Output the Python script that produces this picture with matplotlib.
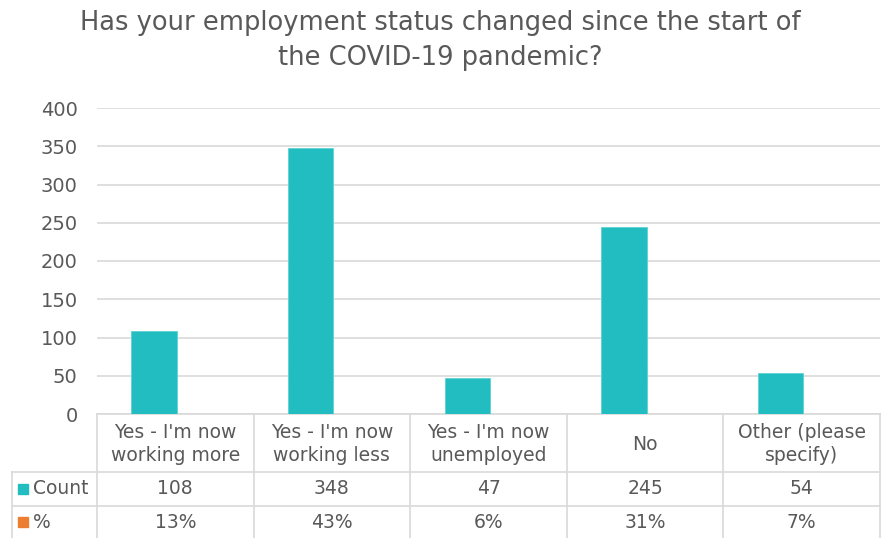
import numpy as np
import matplotlib.pyplot as plt
from matplotlib.transforms import blended_transform_factory

categories = ["Yes - I'm now\nworking more", "Yes - I'm now\nworking less",
              "Yes - I'm now\nunemployed", "No", "Other (please\nspecify)"]
counts = [108, 348, 47, 245, 54]
percents = [0.13, 0.43, 0.06, 0.31, 0.07]
yticks = [0, 50, 100, 150, 200, 250, 300, 350, 400]

teal = "#21BDC1"
orange = "#ED7D31"
grey = "#595959"
line = "#D9D9D9"

W, H = 881, 538
fig = plt.figure(figsize=(W / 100, H / 100), dpi=100)

# plot area in pixels
x0, x1 = 97, 880
y_zero, y_top = 414, 108
ax = fig.add_axes([x0 / W, (H - y_zero) / H, (x1 - x0) / W, (y_zero - y_top) / H])

x = np.arange(len(categories))
bw = 0.29
ax.bar(x - bw / 2 + 0.01, counts, bw, color=teal, edgecolor="#5fd3d6", linewidth=0.6, zorder=3)
ax.bar(x + bw / 2 + 0.01, percents, bw, color=orange, zorder=3)

ax.set_xlim(-0.5, len(categories) - 0.5)
ax.set_ylim(0, 400)
ax.set_yticks(yticks)
ax.set_xticks([])
ax.grid(axis="y", color=line, linewidth=1.2, zorder=0)
for s in ["top", "right", "left"]:
    ax.spines[s].set_visible(False)
ax.spines["bottom"].set_color(line)
ax.spines["bottom"].set_linewidth(1.2)
ax.tick_params(axis="y", length=0, pad=14, labelsize=14, labelcolor=grey)

fig.text(0.5, 1 - 10 / H, "Has your employment status changed since the start of\nthe COVID-19 pandemic?",
         ha="center", va="top", fontsize=18.5, color=grey, linespacing=1.45)

# data table below the axis
tr = blended_transform_factory(ax.transData, fig.transFigure)
fy = lambda py: 1 - py / H
fx = lambda px: px / W
row_hdr, row_cnt, row_pct = 472, 506, 538

for i in range(len(categories) + 1):
    ax.plot([i - 0.5, i - 0.5], [fy(y_zero), fy(row_pct)], transform=tr,
            color=line, lw=1.2, clip_on=False)
for py in [row_hdr, row_cnt]:
    fig.add_artist(plt.Line2D([fx(12), fx(x1)], [fy(py), fy(py)], color=line, lw=1.2))
fig.add_artist(plt.Line2D([fx(12), fx(12)], [fy(row_hdr), fy(row_pct)], color=line, lw=1.2))

fs = 13.5
for i, cat in enumerate(categories):
    ax.text(i, fy((y_zero + row_hdr) / 2 + 1), cat, transform=tr, ha="center", va="center",
            fontsize=fs, color=grey, linespacing=1.25)
    ax.text(i, fy((row_hdr + row_cnt) / 2), str(counts[i]), transform=tr, ha="center",
            va="center", fontsize=fs, color=grey)
    ax.text(i, fy((row_cnt + row_pct) / 2), f"{percents[i]:.0%}", transform=tr, ha="center",
            va="center", fontsize=fs, color=grey)

# legend keys in the table
for py, name, c in [((row_hdr + row_cnt) / 2, "Count", teal), ((row_cnt + row_pct) / 2, "%", orange)]:
    fig.add_artist(plt.Rectangle((fx(18), fy(py + 5)), 10 / W, 10 / H, color=c))
    fig.text(fx(33), fy(py), name, ha="left", va="center", fontsize=fs, color=grey)

fig.savefig("out.png", dpi=100)
